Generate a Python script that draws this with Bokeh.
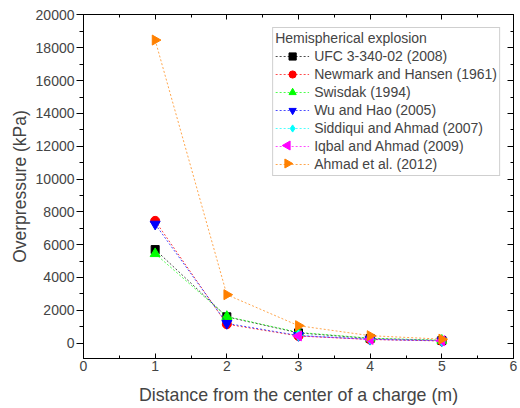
import math
from bokeh.plotting import figure
from bokeh.models import (LinearAxis, FixedTicker, Range1d, Legend, LegendItem)
from bokeh.embed import file_html
from bokeh.resources import INLINE

# ---- data ----
distance = [1, 2, 3, 4, 5]
distance_short = [3, 4, 5]
ufc_2008 = [5700, 1600, 620, 280, 160]
newmark_1961 = [7450, 1150, 430, 220, 130]
swisdak_1994 = [5450, 1620, 650, 300, 170]
wu_hao_2005 = [7250, 1200, 460, 230, 140]
siddiqui_2007 = [470, 240, 150]
iqbal_2009 = [440, 225, 145]
ahmad_2012 = [18470, 2950, 1060, 450, 240]

legend_title = "Hemispherical explosion"
series = [
    ("UFC 3-340-02 (2008)", distance, ufc_2008, "#000000", "square", 0.0, 8),
    ("Newmark and Hansen (1961)", distance, newmark_1961, "#ff0000", "circle", 0.0, 9),
    ("Swisdak (1994)", distance, swisdak_1994, "#00ff00", "triangle", 0.0, 10),
    ("Wu and Hao (2005)", distance, wu_hao_2005, "#0000ff", "inverted_triangle", 0.0, 10),
    ("Siddiqui and Ahmad (2007)", distance_short, siddiqui_2007, "#00ffff", "diamond", 0.0, 11),
    ("Iqbal and Ahmad (2009)", distance_short, iqbal_2009, "#ff00ff", "triangle", math.pi / 2, 10),
    ("Ahmad et al. (2012)", distance, ahmad_2012, "#ff8000", "triangle", -math.pi / 2, 10),
]

x_ticks = [0, 1, 2, 3, 4, 5, 6]
x_minor = [0.5, 1.5, 2.5, 3.5, 4.5, 5.5]
y_ticks = [0, 2000, 4000, 6000, 8000, 10000, 12000, 14000, 16000, 18000, 20000]
y_minor = [1000, 3000, 5000, 7000, 9000, 11000, 13000, 15000, 17000, 19000]

FONT = "Liberation Sans"
X0, X1 = 0, 6
Y0, Y1 = -940, 20030
W, H = 520, 408
BL, BR, BT, BB = 83, 7, 14, 50

p = figure(width=W, height=H, output_backend="svg", toolbar_location=None,
           x_range=Range1d(X0, X1), y_range=Range1d(Y0, Y1),
           min_border_left=BL, min_border_right=BR, min_border_top=BT, min_border_bottom=BB)
p.xgrid.visible = False
p.ygrid.visible = False
p.outline_line_color = "black"
p.outline_line_width = 1
p.background_fill_color = "white"
p.border_fill_color = "white"

xt = FixedTicker(ticks=x_ticks, minor_ticks=x_minor)
yt = FixedTicker(ticks=y_ticks, minor_ticks=y_minor)

xa = p.xaxis[0]
xa.ticker = xt
xa.axis_label = "Distance from the center of a charge (m)"
xa.axis_label_text_font = FONT
xa.axis_label_text_font_size = "17.8px"
xa.axis_label_text_font_style = "normal"
xa.axis_label_standoff = 11
xa.major_label_text_font = FONT
xa.major_label_text_font_size = "14px"
xa.major_label_standoff = 2
xa.major_tick_in = 5
xa.major_tick_out = 0
xa.minor_tick_in = 3
xa.minor_tick_out = 0
xa.axis_line_color = "black"

ya = p.yaxis[0]
ya.ticker = yt
ya.axis_label = "Overpressure (kPa)"
ya.axis_label_text_font = FONT
ya.axis_label_text_font_size = "17.5px"
ya.axis_label_text_font_style = "normal"
ya.axis_label_standoff = 3
ya.major_label_text_font = FONT
ya.major_label_text_font_size = "14px"
ya.major_label_standoff = 2
ya.major_tick_in = 0
ya.major_tick_out = 7
ya.minor_tick_in = 0
ya.minor_tick_out = 4
ya.axis_line_color = "black"

top = LinearAxis(ticker=xt, major_label_overrides={t: "" for t in x_ticks},
                 major_label_text_font_size="1px", major_label_standoff=0,
                 major_tick_in=5, major_tick_out=0, minor_tick_in=3, minor_tick_out=0,
                 axis_line_color="black")
right = LinearAxis(ticker=yt, major_label_overrides={t: "" for t in y_ticks},
                   major_label_text_font_size="1px", major_label_standoff=0,
                   major_tick_in=6, major_tick_out=0, minor_tick_in=3, minor_tick_out=0,
                   axis_line_color="black")
p.add_layout(top, "above")
p.add_layout(right, "right")

# legend geometry (screen px)
LEG_MARGIN, LEG_PAD, GLYPH_W, ROW_H, TITLE_H, TITLE_GAP = 13, 2, 34, 18, 16, 1
frame_w = W - BL - BR
frame_h = H - BT - BB


def to_data(sx, sy):
    return (X0 + (sx - BL) / frame_w * (X1 - X0),
            Y1 - (sy - BT) / frame_h * (Y1 - Y0))


items = []
for i, (name, xs, ys, color, marker, angle, size) in enumerate(series):
    ln = p.line(xs, ys, line_color=color, line_width=1, line_dash="2 2", line_alpha=0.7)
    sc = p.scatter(xs, ys, marker=marker, size=size, angle=angle,
                   fill_color=color, line_color=color)
    if angle == 0.0:
        items.append(LegendItem(label=name, renderers=[ln, sc]))
    else:
        items.append(LegendItem(label=name, renderers=[ln]))

legend = Legend(items=items, location="top_right",
                title=legend_title,
                title_text_font=FONT, title_text_font_size="14px",
                title_text_font_style="normal", title_standoff=TITLE_GAP,
                label_text_font=FONT, label_text_font_size="14px",
                label_standoff=5, label_height=ROW_H, glyph_height=ROW_H, glyph_width=GLYPH_W,
                spacing=0, padding=LEG_PAD, margin=LEG_MARGIN,
                border_line_color="#a0a0a0", border_line_width=1,
                background_fill_color="white", background_fill_alpha=0.0)
p.add_layout(legend)

# rotated triangle markers drawn at the legend rows (legend glyphs ignore angle)
leg_left = 268
for i, (name, xs, ys, color, marker, angle, size) in enumerate(series):
    if angle == 0.0:
        continue
    sx = leg_left + LEG_PAD + GLYPH_W / 2
    sy = BT + LEG_MARGIN + LEG_PAD + TITLE_H + TITLE_GAP + i * ROW_H + ROW_H / 2
    dx, dy = to_data(sx, sy)
    p.scatter([dx], [dy], marker=marker, size=9, angle=angle,
              fill_color=color, line_color=color)

open("out.html", "w").write(file_html(p, INLINE))
